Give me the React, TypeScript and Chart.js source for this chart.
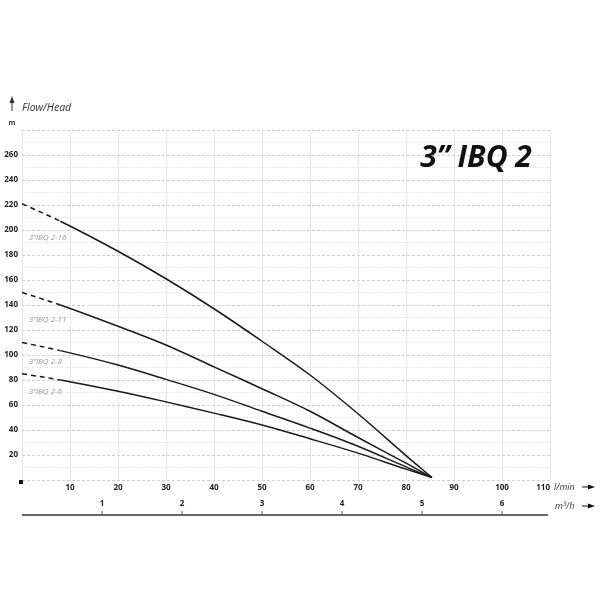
import { useEffect, useRef } from "react";
import Chart from "chart.js/auto";

// flow in l/min, shared by every curve
const flowLmin = [0, 8, 20, 30, 40, 50, 60, 70, 80, 85.4];

// head in m for each pump (first segment is drawn dashed)
const head216 = [221, 207, 183, 161, 137, 111, 84, 53, 19.5, 2];
const head211 = [150, 140, 123, 108, 90.5, 73, 55, 34, 13.5, 2];
const head208 = [110, 103.5, 92, 80.5, 68.5, 55, 41.5, 27, 10.5, 2];
const head206 = [85, 80, 71, 62.5, 53.5, 44, 33, 21.5, 8.7, 2];

const curveNames = ["3\u201dIBQ 2-16", "3\u201dIBQ 2-11", "3\u201dIBQ 2-8", "3\u201dIBQ 2-6"];
// where the grey curve names sit (head in m, at a flow of ~1.4 l/min)
const curveLabelHeads = [194, 128, 95, 71];

const m3hTicks = [1, 2, 3, 4, 5, 6];

const FONT = '"Open Sans", "Noto Sans", sans-serif';

function arrow(ctx: CanvasRenderingContext2D, x0: number, y: number, x1: number) {
  ctx.beginPath();
  ctx.moveTo(x0, y);
  ctx.lineTo(x1 - 5, y);
  ctx.stroke();
  ctx.beginPath();
  ctx.moveTo(x1, y);
  ctx.lineTo(x1 - 7, y - 2.6);
  ctx.lineTo(x1 - 7, y + 2.6);
  ctx.closePath();
  ctx.fill();
}

const decorations = {
  id: "decorations",
  afterDraw(chart: Chart) {
    const ctx = chart.ctx;
    const area = chart.chartArea;
    const xs = chart.scales.x;
    const ys = chart.scales.y;
    ctx.save();

    // title
    ctx.fillStyle = "#111";
    ctx.font = `italic bold 30px ${FONT}`;
    ctx.textAlign = "center";
    ctx.textBaseline = "alphabetic";
    ctx.fillText("3\u201d IBQ 2", area.right - 74, area.top + 37);

    // y axis caption
    ctx.fillStyle = "#333";
    ctx.strokeStyle = "#333";
    ctx.lineWidth = 1;
    ctx.font = `italic 10.5px ${FONT}`;
    ctx.textAlign = "left";
    ctx.fillText("Flow/Head", area.left, area.top - 19);
    ctx.beginPath();
    ctx.moveTo(12, area.top - 19);
    ctx.lineTo(12, area.top - 30);
    ctx.stroke();
    ctx.beginPath();
    ctx.moveTo(12, area.top - 34);
    ctx.lineTo(9.5, area.top - 27);
    ctx.lineTo(14.5, area.top - 27);
    ctx.closePath();
    ctx.fill();
    ctx.font = `bold 7px ${FONT}`;
    ctx.textAlign = "center";
    ctx.fillText("m", 12, area.top - 5);

    // curve names
    ctx.fillStyle = "#9a9a9a";
    ctx.font = `italic 8px ${FONT}`;
    ctx.textAlign = "left";
    ctx.textBaseline = "middle";
    curveNames.forEach((name, i) => {
      ctx.fillText(name, xs.getPixelForValue(1.4), ys.getPixelForValue(curveLabelHeads[i]));
    });

    // origin marker
    ctx.fillStyle = "#111";
    ctx.fillRect(area.left - 3, area.bottom, 4, 4);

    // unit captions with arrows
    ctx.fillStyle = "#333";
    ctx.font = `italic 9px ${FONT}`;
    ctx.fillText("l/min", area.right + 4, area.bottom + 7);
    ctx.fillText("m\u00b3/h", area.right + 5, area.bottom + 26);
    ctx.fillStyle = "#111";
    ctx.strokeStyle = "#111";
    arrow(ctx, 582, area.bottom + 7, 595);
    arrow(ctx, 582, area.bottom + 26, 595);

    // m3/h axis
    const lineY = area.bottom + 35;
    ctx.strokeStyle = "#333";
    ctx.lineWidth = 1.3;
    ctx.beginPath();
    ctx.moveTo(area.left, lineY);
    ctx.lineTo(area.right - 2, lineY);
    ctx.stroke();
    ctx.lineWidth = 0.8;
    ctx.fillStyle = "#222";
    ctx.font = `bold 8px ${FONT}`;
    ctx.textAlign = "center";
    m3hTicks.forEach((v) => {
      const px = xs.getPixelForValue((v * 1000) / 60);
      ctx.beginPath();
      ctx.moveTo(px, lineY - 4);
      ctx.lineTo(px, lineY);
      ctx.stroke();
      ctx.fillText(String(v), px, lineY - 11);
    });

    ctx.restore();
  },
};

export default function App() {
  const canvasRef = useRef<HTMLCanvasElement | null>(null);

  useEffect(() => {
    const canvas = canvasRef.current;
    if (!canvas) return;

    const heads = [head216, head211, head208, head206];
    const chart = new Chart(canvas, {
      type: "line",
      data: {
        datasets: heads.map((h, i) => ({
          label: curveNames[i],
          data: flowLmin.map((f, j) => ({ x: f, y: h[j] })),
          borderColor: "#1a1a1a",
          borderWidth: 1.5,
          pointRadius: 0,
          tension: 0.35,
          segment: {
            borderDash: (ctx: any) => (ctx.p0DataIndex === 0 ? [5, 4] : undefined),
          },
        })),
      },
      options: {
        responsive: false,
        animation: false,
        layout: { padding: { left: 0, top: 130, right: 50, bottom: 100 } },
        plugins: {
          legend: { display: false },
          tooltip: { enabled: false },
        },
        scales: {
          x: {
            type: "linear",
            min: 0,
            max: 110,
            afterFit: (scale: any) => {
              scale.height = 20;
            },
            border: { display: false },
            grid: { color: "#e6e6e6", lineWidth: 1, drawTicks: false },
            ticks: {
              stepSize: 10,
              autoSkip: false,
              maxRotation: 0,
              align: "inner",
              padding: 3,
              color: "#222",
              font: { family: FONT, size: 8, weight: "bold" },
              callback: (v: any) => (v === 0 ? "" : String(v)),
            },
          },
          y: {
            min: 0,
            max: 280,
            afterFit: (scale: any) => {
              scale.width = 22;
            },
            border: {
              display: false,
              dash: (c: any) => (c.tick && c.tick.value % 20 === 0 ? [3, 2] : [1, 1.5]),
            },
            grid: {
              drawTicks: false,
              lineWidth: 1,
              color: (c: any) => (c.tick && c.tick.value % 20 === 0 ? "#cfcfcf" : "#dcdcdc"),
            },
            ticks: {
              stepSize: 10,
              autoSkip: false,
              padding: 4,
              color: "#222",
              font: { family: FONT, size: 8, weight: "bold" },
              callback: (v: any) => (v % 20 === 0 && v > 0 && v < 280 ? String(v) : ""),
            },
          },
        },
      },
      plugins: [decorations],
    });

    return () => {
      chart.destroy();
    };
  }, []);

  return (
    <div style={{ position: "absolute", left: 0, top: 0, width: 600, height: 600, background: "#fff" }}>
      <canvas ref={canvasRef} width={600} height={600} style={{ width: 600, height: 600 }} />
    </div>
  );
}
